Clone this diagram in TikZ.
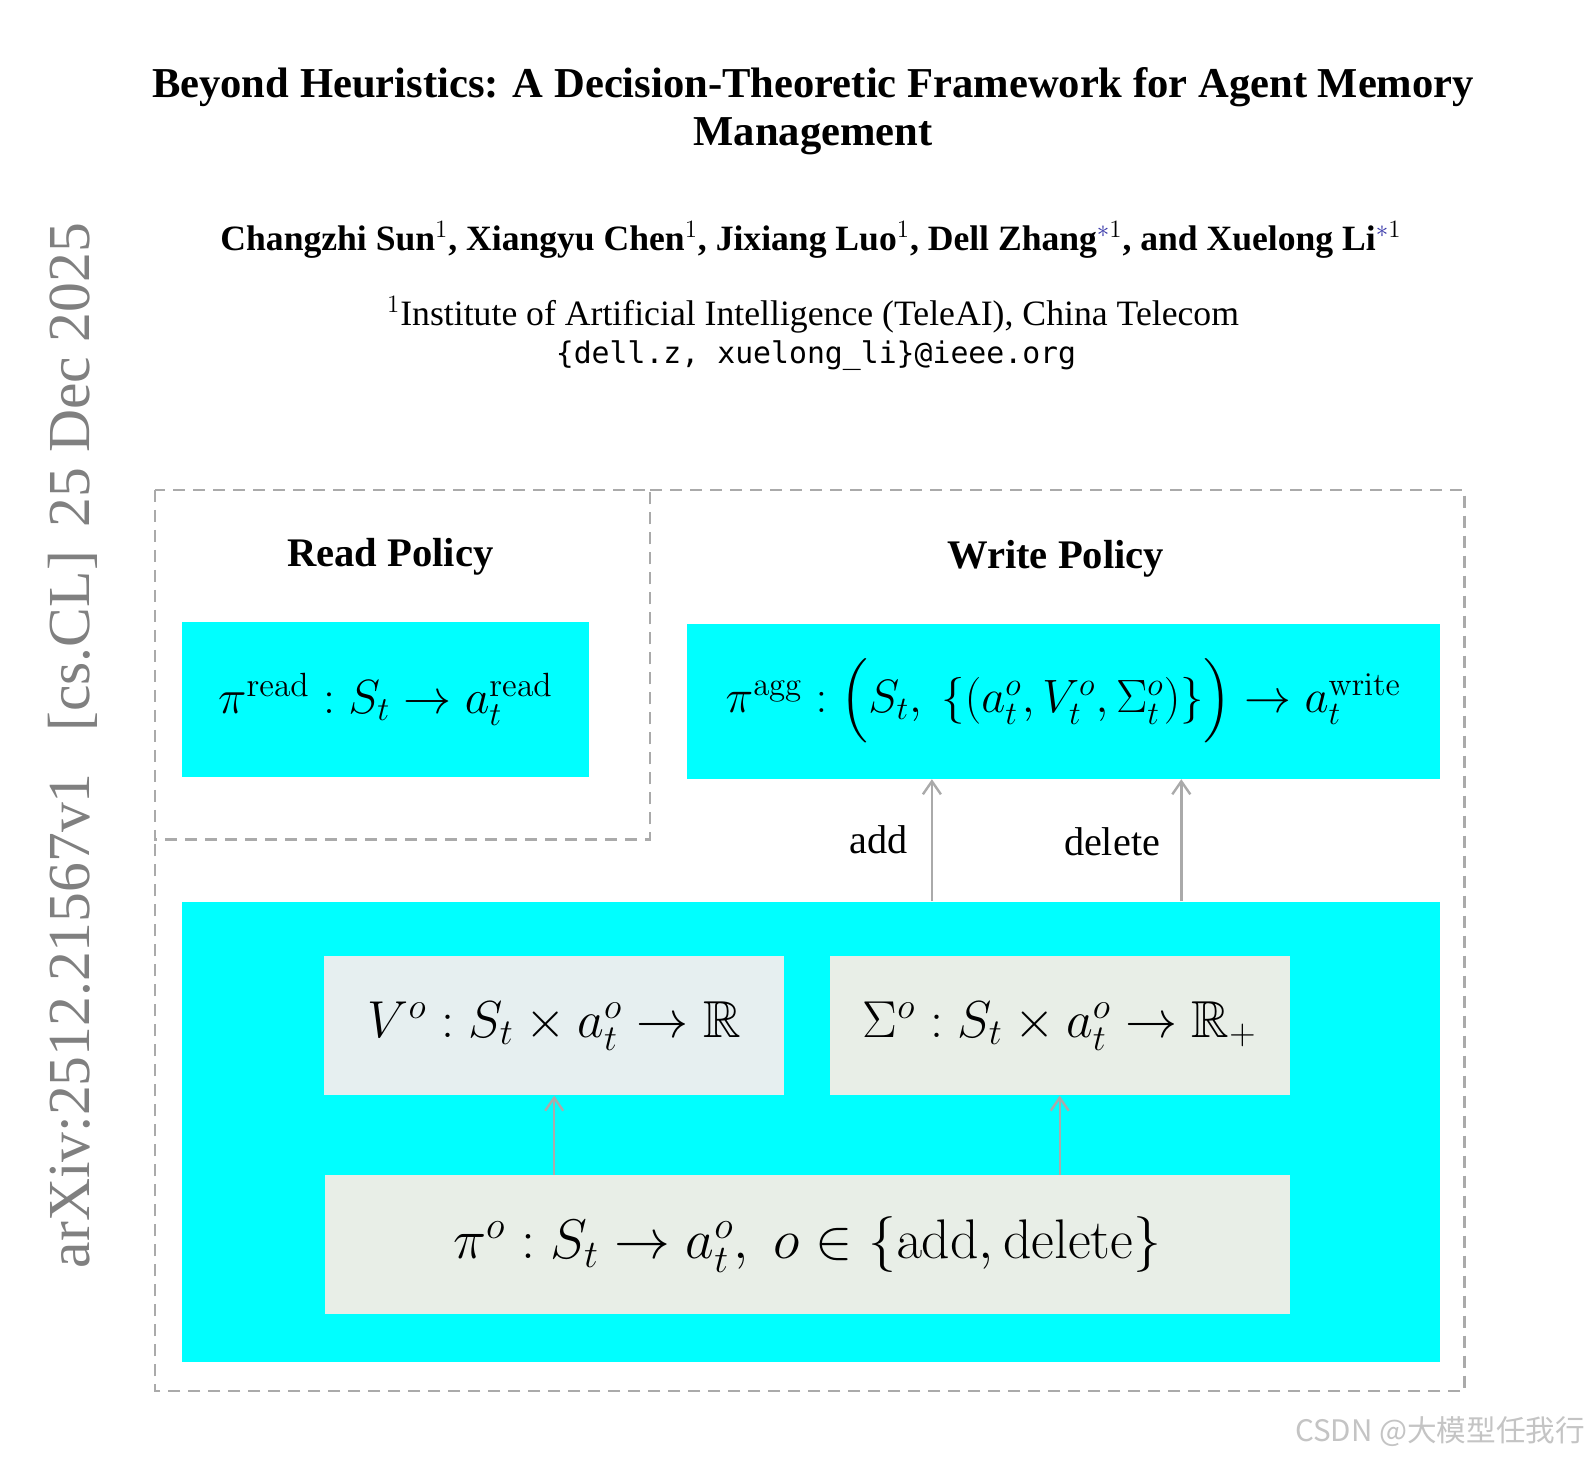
\documentclass[tikz,border=0pt]{standalone}
\usepackage{fix-cm}
\usepackage{amsmath,amssymb}
\usepackage[no-math]{fontspec}
\setmainfont{Liberation Serif}
\setmonofont{DejaVu Sans Mono}
\newfontfamily\cjkfont{Noto Sans CJK SC}
\usepackage{tikz}
\usetikzlibrary{arrows.meta, positioning}
\usepackage{xcolor}
\definecolor{box-cyan}{HTML}{00FFFF}
\definecolor{value-gray}{HTML}{E6EFF0}
\definecolor{risk-gray}{HTML}{E8EEE7}
\definecolor{frame-gray}{HTML}{AAAAAA}
\definecolor{stamp-gray}{HTML}{808080}
\definecolor{mark-blue}{HTML}{3535A8}
\definecolor{wm-gray}{HTML}{C4C4C4}

\tikzset{
  policybox/.style={fill=box-cyan, inner sep=0pt, minimum height=77.6pt,
                    font=\fontsize{24}{29}\selectfont},
  estbox/.style={inner sep=0pt, minimum width=229.9pt, minimum height=69.5pt,
                 font=\fontsize{26}{31}\selectfont},
  dashframe/.style={draw=frame-gray, line width=1.25pt, dash pattern=on 6pt off 4pt},
  flow/.style={draw=frame-gray, line width=1.2pt, -{Straight Barb[length=6.5pt,width=9pt]}},
  heading/.style={anchor=base, font=\fontsize{20.3}{24}\selectfont\bfseries},
  oplabel/.style={anchor=base, font=\fontsize{20.1}{24}\selectfont},
}

\begin{document}
\begin{tikzpicture}[x=0.5pt, y=-0.5pt]
  \fill[white] (0,0) rectangle (1590,1462);
  \useasboundingbox (0,0) rectangle (1590,1462);

  \node[anchor=base, font=\fontsize{21.3}{23.5}\selectfont\bfseries] (title1) at (813,97.7)
    {Beyond Heuristics: A Decision-Theoretic Framework for Agent Memory};
  \node[anchor=base, font=\fontsize{21.3}{23.5}\selectfont\bfseries] (title2) at (813,145)
    {Management};
  \node[anchor=base, font=\fontsize{17.8}{21}\selectfont\bfseries] (authors) at (811,250)
    {Changzhi Sun$^1$, Xiangyu Chen$^1$, Jixiang Luo$^1$, Dell Zhang$^{\textcolor{mark-blue}{*}1}$,
     and Xuelong Li$^{\textcolor{mark-blue}{*}1}$};
  \node[anchor=base, font=\fontsize{17.85}{21}\selectfont] (affil) at (813,325)
    {$^1$Institute of Artificial Intelligence (TeleAI), China Telecom};
  \node[anchor=base, font=\fontsize{14.9}{18}\selectfont\ttfamily] (email) at (816,363)
    {\{dell.z, xuelong\_li\}@ieee.org};

  \node[rotate=90, anchor=base, text=stamp-gray, font=\fontsize{29.8}{34}\selectfont] (stamp) at (89,745.5)
    {arXiv:2512.21567v1\hspace{0.7em}[cs.CL]\hspace{0.4em}25 Dec 2025};

  \draw[dashframe] (650,489.8) -- (1464.3,489.8) -- (1464.3,1391.2) -- (155.1,1391.2) -- (155.1,839.6);
  \draw[dashframe] (155.1,489.8) rectangle (650,839.6);

  \node[heading] (readttl) at (390.4,566) {Read Policy};
  \node[heading] (writettl) at (1055.6,568) {Write Policy};

  \node[policybox, minimum width=203.9pt] (read) at (385.4,699.2)
    {$\pi^{\mathrm{read}} : S_t \rightarrow a_t^{\mathrm{read}}$};
  \node[policybox, minimum width=376.7pt, font=\fontsize{23.4}{28}\selectfont] (write) at (1063.2,701.2)
    {$\pi^{\mathrm{agg}} : \Big(S_t,\ \{(a_t^o, V_t^o, \Sigma_t^o)\}\Big) \rightarrow a_t^{\mathrm{write}}$};

  \node[fill=box-cyan, inner sep=0pt, minimum width=629.2pt, minimum height=230.2pt] (opt) at (810.7,1131.7) {};
  \node[estbox, fill=value-gray] (value) at (554.2,1025.7)
    {$V^o : S_t \times a_t^o \rightarrow \mathbb{R}$};
  \node[estbox, fill=risk-gray] (risk) at (1059.7,1025.7)
    {$\Sigma^o : S_t \times a_t^o \rightarrow \mathbb{R}_+$};
  \node[estbox, fill=risk-gray, minimum width=482.7pt, font=\fontsize{27.9}{33}\selectfont] (propose) at (807.2,1244.8)
    {$\pi^o : S_t \rightarrow a_t^o,\; o \in \{\mathrm{add}, \mathrm{delete}\}$};

  \draw[flow] (value.south |- propose.north) -- (value.south);
  \draw[flow] (risk.south |- propose.north) -- (risk.south);

  \coordinate (addx) at (931.9,0);
  \coordinate (delx) at (1181.3,0);
  \draw[flow] (addx |- opt.north) -- (addx |- write.south);
  \draw[flow] (delx |- opt.north) -- (delx |- write.south);
  \node[oplabel] (addlbl) at (879,853) {add};
  \node[oplabel] (dellbl) at (1112,855) {delete};

  \node[anchor=base west, text=wm-gray, font=\cjkfont\fontsize{14.8}{17}\selectfont] (wm) at (1288,1441.7)
    {CSDN @大模型任我行};
\end{tikzpicture}
\end{document}
